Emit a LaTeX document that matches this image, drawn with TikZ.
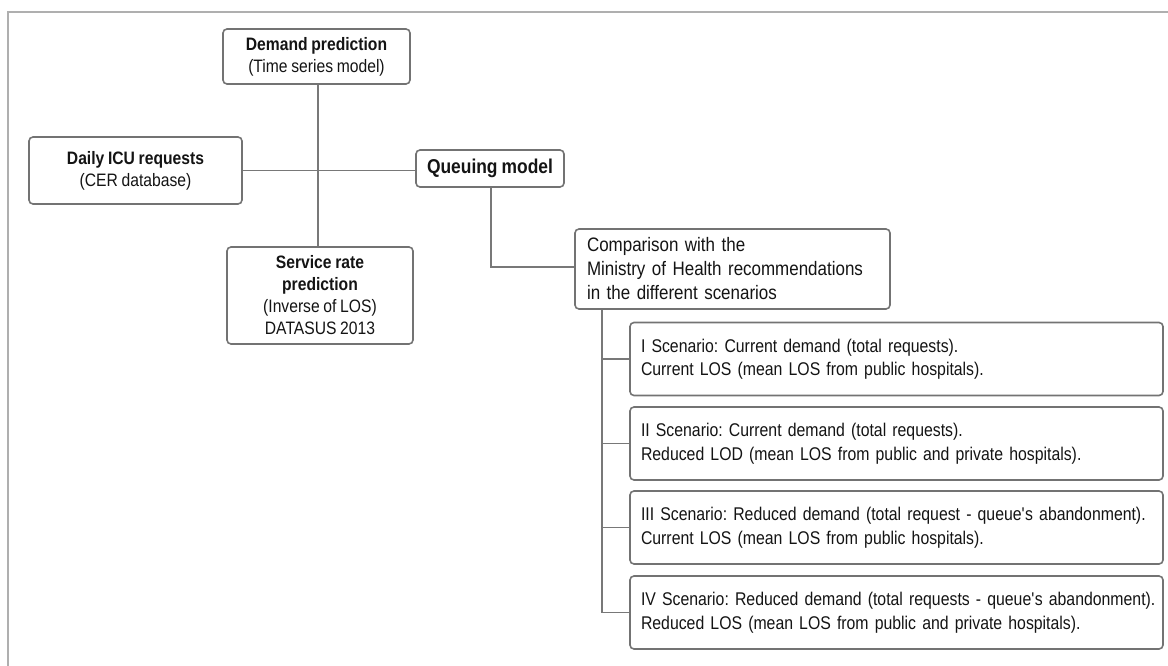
\documentclass[tikz,border=0pt]{standalone}
\usepackage{fontspec}
\setmainfont{Liberation Sans}[FakeStretch=0.87, WordSpace=0.85]
\newfontfamily\scenfont{Liberation Sans}[FakeStretch=0.86, WordSpace=0.72]
\definecolor{boxgray}{RGB}{115,115,115}
\definecolor{linegray}{RGB}{120,120,120}
\definecolor{framegray}{RGB}{175,175,175}
\definecolor{textcol}{RGB}{20,20,20}
\tikzset{
  box/.style={draw=boxgray, line width=1.6pt, rounded corners=4pt, fill=white,
    inner sep=0pt, align=center, text=textcol, font=\fontsize{18}{22}\selectfont},
  scen/.style={box, align=left, inner xsep=11pt, text width=511pt,
    minimum height=73pt, font=\scenfont\fontsize{18.4}{23.5}\selectfont},
  conn/.style={draw=linegray, line width=1.6pt}
}
\begin{document}
\frenchspacing
\begin{tikzpicture}[x=1pt,y=-1pt]
\useasboundingbox (0,0) rectangle (1168,666);
\draw[framegray, line width=1.5pt] (8,666) -- (8,12) -- (1168,12);

\node[box, minimum width=187pt, minimum height=55pt] (demand) at (316.5,56.5)
  {\textbf{Demand prediction}\\(Time series model)};
\node[box, minimum width=213pt, minimum height=67pt] (daily) at (135.5,170.5)
  {\textbf{Daily ICU requests}\\(CER database)};
\node[box, minimum width=148pt, minimum height=37pt, font=\fontsize{20}{24}\selectfont\bfseries] (queue) at (490,168.5)
  {Queuing model};
\node[box, minimum width=186pt, minimum height=97pt] (service) at (320,295.5)
  {\textbf{Service rate}\\\textbf{prediction}\\(Inverse of LOS)\\DATASUS 2013};
\node[box, align=left, inner xsep=12pt, text width=291pt, minimum height=80pt,
  font=\fontsize{19.5}{24}\selectfont] (comp) at (732.5,269)
  {\mbox{Comparison with the}\\\mbox{Ministry of Health recommendations}\\\mbox{in the different scenarios}};

\node[scen] (s1) at (896.5,359)
  {\mbox{I Scenario: Current demand (total requests).}\\\mbox{Current LOS (mean LOS from public hospitals).}};
\node[scen] (s2) at (896.5,443.5)
  {\mbox{II Scenario: Current demand (total requests).}\\\mbox{Reduced LOD (mean LOS from public and private hospitals).}};
\node[scen] (s3) at (896.5,527.5)
  {\mbox{III Scenario: Reduced demand (total request - queue\textquotesingle s abandonment).}\\\mbox{Current LOS (mean LOS from public hospitals).}};
\node[scen] (s4) at (896.5,612.5)
  {\mbox{IV Scenario: Reduced demand (total requests - queue\textquotesingle s abandonment).}\\\mbox{Reduced LOS (mean LOS from public and private hospitals).}};

\coordinate (vx) at (318,0);
\draw[conn] (demand.south -| vx) -- (service.north -| vx);
\draw[conn] (daily.east) -- (daily.east -| queue.west);
\coordinate (qb) at (491,267);
\draw[conn] (queue.south -| qb) -- (qb) -- (qb -| comp.west);
\coordinate (cx) at (602,0);
\draw[conn] (comp.south -| cx) -- (s4.west -| cx) -- (s4.west);
\draw[conn] (s1.west -| cx) -- (s1.west);
\draw[conn] (s2.west -| cx) -- (s2.west);
\draw[conn] (s3.west -| cx) -- (s3.west);
\end{tikzpicture}
\end{document}
